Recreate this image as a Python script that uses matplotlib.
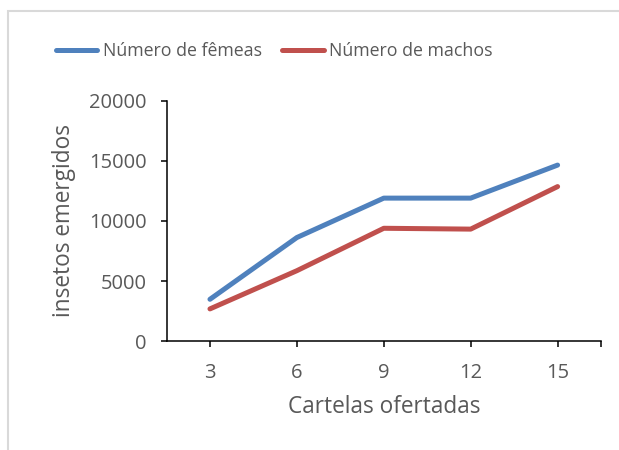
import matplotlib.pyplot as plt
from matplotlib.patches import Rectangle

# === Data ===
cartelas = ["3", "6", "9", "12", "15"]
femeas = [3480, 8620, 11900, 11900, 14650]
machos = [2680, 5860, 9390, 9320, 12860]

blue = "#4F81BD"
red = "#C0504D"
text_gray = "#595959"

plt.rcParams["font.family"] = ["Open Sans", "DejaVu Sans"]

fig = plt.figure(figsize=(6.19, 4.5), dpi=100)
ax = fig.add_axes([0.269, 0.242, 0.702, 0.534])

x = range(len(cartelas))
ax.plot(x, femeas, color=blue, lw=3.6, solid_capstyle="round", label="Número de fêmeas")
ax.plot(x, machos, color=red, lw=3.6, solid_capstyle="round", label="Número de machos")

ax.set_xlim(-0.5, len(cartelas) - 0.5)
ax.set_ylim(0, 20000)
ax.set_yticks([0, 5000, 10000, 15000, 20000])
ax.set_xticks(list(x) + [len(cartelas) - 0.5])
ax.set_xticklabels(cartelas + [""])

for side in ["top", "right"]:
    ax.spines[side].set_visible(False)
for side in ["left", "bottom"]:
    ax.spines[side].set_linewidth(1.1)
    ax.spines[side].set_color("black")

ax.tick_params(axis="both", direction="out", length=4.5, width=1.1, color="black",
               labelsize=14.5, labelcolor=text_gray)
ax.tick_params(axis="y", pad=10)
ax.tick_params(axis="x", pad=11)

ax.set_xlabel("Cartelas ofertadas", fontsize=16.3, color=text_gray, labelpad=9)
ax.set_ylabel("insetos emergidos", fontsize=16.3, color=text_gray, labelpad=9)

fig.legend(loc="center", bbox_to_anchor=(0.443, 0.886), ncol=2, frameon=False,
           fontsize=12.8, labelcolor=text_gray, handlelength=2.35, handletextpad=0.3,
           columnspacing=1.15)

# light frame around chart area
fig.patches.append(Rectangle((8 / 619, -0.1), 1.2, 1 - 11 / 450 + 0.1,
                             transform=fig.transFigure, fill=False,
                             edgecolor="#D9D9D9", lw=1.5))

fig.savefig("out.png", dpi=100)
